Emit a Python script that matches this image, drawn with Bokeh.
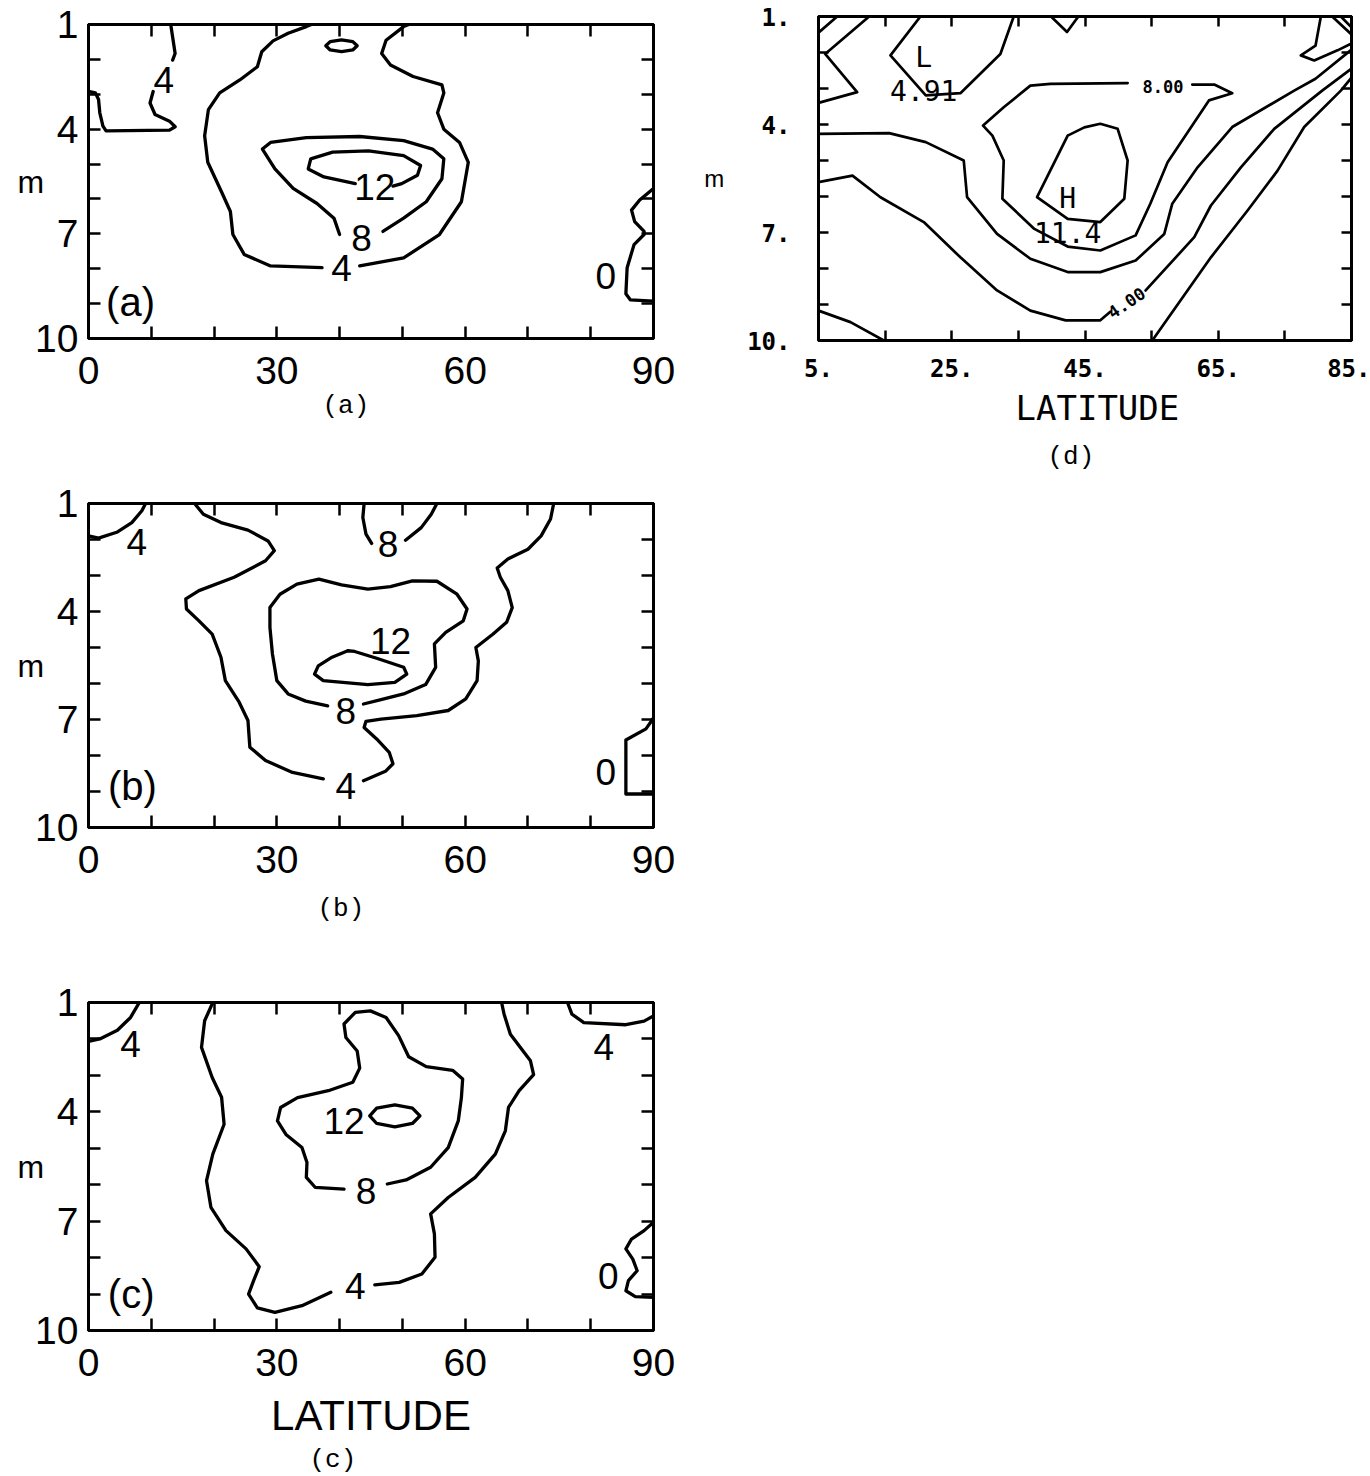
from bokeh.plotting import figure
from bokeh.models import Range1d, FixedTicker, LinearAxis, Title
from bokeh.layouts import row, column
from bokeh.core.properties import value
from bokeh.embed import file_html
from bokeh.resources import INLINE

# ---------------- axis ticks ----------------
ABC_XTICKS = [0, 10, 20, 30, 40, 50, 60, 70, 80, 90]
ABC_XLABELS = ["0", "", "", "30", "", "", "60", "", "", "90"]
ABC_YTICKS = [1, 2, 3, 4, 5, 6, 7, 8, 9, 10]
ABC_YLABELS = ["1", "", "", "4", "", "", "7", "", "", "10"]
D_XTICKS = [5, 15, 25, 35, 45, 55, 65, 75, 85]
D_XLABELS = ["5.", "", "25.", "", "45.", "", "65.", "", "85."]
D_YTICKS = [1, 2, 3, 4, 5, 6, 7, 8, 9, 10]
D_YLABELS = ["1.", "", "", "4.", "", "", "7.", "", "", "10."]

# ---------------- panel (a): contour lines (latitude, m) ----------------
A_4L_TOP_LAT = [13.1, 13.4, 13.8, 13.4]
A_4L_TOP_M = [1.0, 1.36, 1.83, 2.02]
A_4L_BOT_LAT = [10.3, 9.8, 10.6, 12.9, 13.8, 12.9, 2.8, 2.3, 1.8, 1.6, 1.1, 0.0]
A_4L_BOT_M = [2.92, 3.25, 3.58, 3.77, 3.93, 4.03, 4.05, 3.91, 3.53, 3.15, 2.96, 2.92]
A_4B_L_LAT = [35.5, 34.7, 31.8, 29.4, 27.6, 26.9, 24.1, 20.9, 19.1, 18.5, 19.0, 21.2, 22.6, 23.0, 24.8, 29.0, 37.2]
A_4B_L_M = [1.0, 1.06, 1.25, 1.47, 1.78, 2.21, 2.59, 2.96, 3.44, 4.19, 4.95, 5.80, 6.36, 7.02, 7.59, 7.92, 7.97]
A_4B_R_LAT = [43.2, 50.2, 55.9, 59.4, 60.5, 59.1, 56.6, 55.6, 56.6, 56.3, 51.7, 48.1, 46.7, 47.4, 50.2, 51.0]
A_4B_R_M = [7.92, 7.69, 7.02, 6.08, 4.95, 4.38, 4.0, 3.53, 2.96, 2.73, 2.49, 2.16, 1.83, 1.45, 1.06, 1.0]
A_LOOP_LAT = [37.8, 38.5, 40.3, 42.1, 42.8, 42.1, 40.3, 38.5, 37.8]
A_LOOP_M = [1.61, 1.49, 1.44, 1.49, 1.61, 1.73, 1.78, 1.73, 1.61]
A_8_LAT = [40.0, 39.1, 36.4, 32.6, 29.7, 27.7, 29.0, 34.7, 43.2, 50.2, 54.8, 56.6, 56.3, 53.8, 50.2, 46.9]
A_8_M = [7.02, 6.55, 6.13, 5.70, 5.14, 4.57, 4.38, 4.24, 4.21, 4.33, 4.57, 4.85, 5.42, 6.08, 6.55, 6.93]
A_12_LAT = [42.5, 37.5, 35.0, 35.4, 38.9, 44.6, 50.2, 52.9, 52.4, 49.9, 48.5]
A_12_M = [5.56, 5.37, 5.14, 4.85, 4.66, 4.62, 4.76, 5.04, 5.32, 5.56, 5.63]
A_0_LAT = [90.0, 87.8, 86.5, 87.0, 88.5, 88.5, 86.9, 85.8, 85.6, 86.3, 90.0]
A_0_M = [5.70, 6.03, 6.32, 6.65, 6.93, 7.02, 7.31, 7.97, 8.72, 8.89, 8.93]
A_LBL_LAT = [12.0, 40.3, 43.5, 45.6, 82.4]
A_LBL_M = [2.6, 7.97, 7.12, 5.66, 8.2]
A_LBL_TXT = ["4", "4", "8", "12", "0"]
A_TAG_LAT = [6.7]
A_TAG_M = [8.94]
A_TAG_TXT = ["(a)"]

# ---------------- panel (b) ----------------
B_4L_LAT = [0.0, 1.6, 4.5, 6.9, 8.5, 9.1]
B_4L_M = [1.90, 1.96, 1.80, 1.53, 1.2, 1.0]
B_4B_L_LAT = [16.9, 18.3, 21.1, 25.4, 28.6, 29.6, 28.2, 23.2, 17.6, 15.5, 15.6, 17.6, 19.7, 21.1, 21.8, 24.0, 25.4, 25.7, 28.2, 32.5, 37.4]
B_4B_L_M = [1.0, 1.30, 1.53, 1.74, 2.04, 2.31, 2.59, 3.05, 3.42, 3.65, 3.93, 4.26, 4.63, 5.27, 5.92, 6.52, 7.03, 7.77, 8.14, 8.47, 8.65]
B_4B_R_LAT = [43.8, 47.3, 48.5, 47.9, 45.9, 43.9, 44.2, 46.6, 52.3, 57.3, 60.1, 61.9, 62.1, 61.7, 64.4, 66.6, 67.5, 66.8, 65.6, 65.1, 66.8, 70.0, 72.1, 73.6, 74.1]
B_4B_R_M = [8.70, 8.44, 8.23, 7.91, 7.54, 7.22, 7.05, 6.99, 6.89, 6.75, 6.43, 5.92, 5.37, 5.0, 4.63, 4.30, 3.89, 3.42, 3.05, 2.79, 2.54, 2.27, 1.90, 1.43, 1.0]
B_8T_L_LAT = [43.9, 43.7, 44.2, 45.1]
B_8T_L_M = [1.0, 1.39, 1.85, 2.11]
B_8T_R_LAT = [50.5, 53.0, 54.6, 55.5]
B_8T_R_M = [2.02, 1.67, 1.30, 1.0]
B_8_LAT = [43.8, 46.6, 50.2, 53.7, 55.3, 55.1, 56.9, 59.7, 60.3, 58.7, 55.5, 51.6, 48.1, 44.5, 40.3, 36.7, 33.2, 30.5, 28.9, 28.9, 29.3, 30.0, 31.8, 34.6, 38.1]
B_8_M = [6.57, 6.45, 6.29, 6.03, 5.55, 4.90, 4.58, 4.26, 3.93, 3.52, 3.16, 3.15, 3.31, 3.38, 3.26, 3.10, 3.24, 3.52, 3.89, 4.44, 5.18, 5.92, 6.29, 6.49, 6.62]
B_12_LAT = [41.3, 38.8, 36.6, 36.0, 37.4, 44.5, 48.8, 50.7, 50.2, 45.9, 42.4, 41.3]
B_12_M = [5.09, 5.27, 5.51, 5.74, 5.92, 6.03, 5.97, 5.74, 5.55, 5.30, 5.11, 5.09]
B_0_LAT = [90.0, 88.8, 85.6, 85.6, 90.0]
B_0_M = [6.96, 7.26, 7.57, 9.07, 9.07]
B_LBL_LAT = [7.7, 41.0, 47.7, 41.0, 48.1, 82.4]
B_LBL_M = [2.08, 8.84, 2.13, 6.75, 4.81, 8.47]
B_LBL_TXT = ["4", "4", "8", "8", "12", "0"]
B_TAG_LAT = [7.0]
B_TAG_M = [8.84]
B_TAG_TXT = ["(b)"]

# ---------------- panel (c) ----------------
C_4L_LAT = [0.0, 1.8, 4.6, 6.7, 8.1]
C_4L_M = [2.07, 2.0, 1.76, 1.41, 1.0]
C_4R_LAT = [76.3, 77.0, 78.9, 85.6, 88.5, 90.0]
C_4R_M = [1.0, 1.32, 1.55, 1.61, 1.51, 1.37]
C_4B_L_LAT = [19.8, 18.5, 18.0, 19.7, 21.2, 21.6, 19.8, 18.8, 19.5, 21.9, 25.1, 27.2, 26.3, 25.5, 26.9, 29.7, 34.0, 38.6]
C_4B_L_M = [1.0, 1.50, 2.23, 3.06, 3.60, 4.34, 5.16, 5.89, 6.62, 7.26, 7.76, 8.25, 8.63, 9.0, 9.38, 9.50, 9.32, 8.95]
C_4B_R_LAT = [45.6, 49.5, 53.1, 55.2, 55.1, 54.5, 57.3, 61.6, 64.8, 66.4, 66.9, 68.6, 70.9, 70.4, 67.2, 66.2, 65.8]
C_4B_R_M = [8.75, 8.68, 8.45, 7.99, 7.35, 6.80, 6.35, 5.80, 5.16, 4.52, 3.88, 3.42, 2.98, 2.60, 1.87, 1.32, 1.0]
C_8_LAT = [47.6, 50.6, 54.5, 57.3, 58.9, 59.4, 59.6, 58.0, 53.8, 51.0, 49.4, 47.4, 44.9, 42.5, 40.7, 41.0, 42.8, 43.2, 42.1, 38.2, 33.3, 30.6, 30.1, 31.5, 34.0, 34.8, 34.7, 36.1, 40.7]
C_8_M = [5.98, 5.87, 5.52, 4.98, 4.25, 3.61, 3.10, 2.86, 2.76, 2.49, 1.91, 1.41, 1.23, 1.27, 1.59, 1.96, 2.33, 2.80, 3.19, 3.42, 3.61, 3.88, 4.25, 4.63, 4.98, 5.39, 5.80, 6.07, 6.12]
C_12_LAT = [44.8, 45.9, 48.8, 51.6, 52.8, 51.6, 48.8, 45.9, 44.8]
C_12_M = [4.11, 3.90, 3.81, 3.90, 4.11, 4.32, 4.41, 4.32, 4.11]
C_0_LAT = [90.0, 88.5, 86.5, 85.6, 86.7, 87.4, 86.0, 85.6, 87.1, 90.0]
C_0_M = [7.03, 7.26, 7.49, 7.76, 8.04, 8.36, 8.63, 8.91, 9.07, 9.09]
C_LBL_LAT = [6.7, 82.1, 42.5, 44.2, 40.7, 82.8]
C_LBL_M = [2.14, 2.23, 8.77, 6.16, 4.25, 8.5]
C_LBL_TXT = ["4", "4", "4", "8", "12", "0"]
C_TAG_LAT = [6.8]
C_TAG_M = [9.0]
C_TAG_TXT = ["(c)"]

# ---------------- panel (d) ----------------
D_C1_LAT = [5.0, 7.8]
D_C1_M = [1.45, 1.0]
D_ZIG_LAT = [12.6, 6.0, 10.8, 5.0]
D_ZIG_M = [1.0, 2.04, 3.10, 3.40]
D_LOW_LAT = [20.3, 15.8, 21.1, 26.3, 32.3, 34.3]
D_LOW_M = [1.0, 2.08, 3.19, 3.13, 2.04, 1.0]
D_V_LAT = [39.9, 42.3, 44.0]
D_V_M = [1.0, 1.43, 1.0]
D_8_LAT = [61.1, 64.4, 67.1, 63.6, 57.4, 54.8, 52.6, 47.3, 42.4, 37.4, 32.6, 32.8, 31.1, 29.7, 32.8, 36.8, 39.8, 51.4]
D_8_M = [2.89, 2.89, 3.13, 3.33, 5.05, 6.2, 7.08, 7.5, 7.39, 6.9, 6.06, 5.0, 4.31, 4.03, 3.52, 2.92, 2.87, 2.85]
D_H_LAT = [42.4, 44.9, 47.3, 49.9, 51.4, 50.9, 47.3, 42.4, 37.8, 42.4]
D_H_M = [4.31, 4.08, 3.98, 4.12, 5.0, 6.06, 6.71, 6.62, 6.02, 4.31]
D_6_LAT = [5.0, 15.6, 21.1, 26.8, 27.3, 31.8, 36.8, 42.4, 47.3, 52.6, 56.9, 58.1, 61.9, 67.1, 76.4, 79.6, 85.0]
D_6_M = [4.26, 4.24, 4.49, 5.0, 6.02, 7.04, 7.73, 8.10, 8.10, 7.78, 7.04, 6.2, 5.19, 4.07, 3.06, 2.73, 1.92]
D_4_L_LAT = [5.0, 10.1, 14.3, 20.8, 26.3, 31.8, 36.8, 42.1, 47.3, 48.8]
D_4_L_M = [5.6, 5.42, 6.02, 6.71, 7.69, 8.61, 9.17, 9.44, 9.44, 9.2]
D_4_R_LAT = [54.1, 61.4, 63.9, 68.4, 73.4, 80.6, 85.0]
D_4_R_M = [8.61, 7.13, 6.25, 5.19, 4.12, 3.06, 2.45]
D_BR_LAT = [55.1, 63.9, 69.4, 73.9, 77.9, 83.4, 85.0]
D_BR_M = [10.0, 7.69, 6.39, 5.28, 4.07, 3.06, 2.7]
D_BL_LAT = [5.0, 9.8, 14.8]
D_BL_M = [9.17, 9.49, 10.0]
D_WIG_LAT = [80.4, 79.6, 77.4, 79.4, 82.9, 85.0]
D_WIG_M = [1.0, 1.81, 2.08, 2.22, 1.94, 1.75]
D_C2A_LAT = [82.1, 85.0]
D_C2A_M = [1.0, 1.5]
D_C2B_LAT = [83.4, 85.0]
D_C2B_M = [1.0, 1.3]
D_LBL_LAT = [20.8, 20.8, 42.4, 42.4]
D_LBL_M = [2.13, 3.06, 6.06, 7.01]
D_LBL_TXT = ["L", "4.91", "H", "11.4"]
D_SMALL_LAT = [56.7, 51.2]
D_SMALL_M = [2.94, 8.95]
D_SMALL_TXT = ["8.00", "4.00"]
D_SMALL_ANGLE = [0.0, 0.6]

SANS = "Liberation Sans"
MONO = "Liberation Mono"
PLOT = "DejaVu Sans Mono"


def style_axis(ax, lw, tick_len):
    ax.axis_line_color = "black"
    ax.axis_line_width = lw
    ax.major_tick_in = tick_len
    ax.major_tick_out = 0
    ax.major_tick_line_width = 2.5
    ax.major_tick_line_color = "black"
    ax.minor_tick_line_color = None


def make_fig(w, h, borders, xr, yr, xt, xl, yt, yl, font, fsize, fstyle,
             xstand, ystand, tick_len, lw, ylabel_size, ylabel_stand):
    bl, br, bt, bb = borders
    p = figure(width=w, height=h, x_range=Range1d(*xr), y_range=Range1d(*yr),
               output_backend="svg", toolbar_location=None,
               min_border_left=bl, min_border_right=br,
               min_border_top=bt, min_border_bottom=bb)
    p.grid.visible = False
    p.outline_line_color = "black"
    p.outline_line_width = lw
    p.background_fill_color = "white"
    p.border_fill_color = "white"
    bx = p.xaxis[0]
    ly = p.yaxis[0]
    for ax, ticks, labs, stand in ((bx, xt, xl, xstand), (ly, yt, yl, ystand)):
        style_axis(ax, lw, tick_len)
        ax.ticker = FixedTicker(ticks=ticks)
        ax.major_label_overrides = {t: s for t, s in zip(ticks, labs)}
        ax.major_label_standoff = stand
        ax.major_label_text_font = font
        ax.major_label_text_font_size = fsize
        ax.major_label_text_font_style = fstyle
        ax.major_label_text_color = "black"
    ly.axis_label = "m"
    ly.axis_label_text_font = SANS
    ly.axis_label_text_font_size = ylabel_size
    ly.axis_label_text_font_style = "normal"
    ly.axis_label_text_color = "black"
    ly.axis_label_standoff = ylabel_stand
    try:
        ly.axis_label_orientation = "horizontal"
    except Exception:
        pass
    top = LinearAxis(ticker=FixedTicker(ticks=xt),
                     major_label_overrides={t: "" for t in xt},
                     major_label_text_color=None, major_label_text_font_size="1px",
                     major_label_standoff=0)
    right = LinearAxis(ticker=FixedTicker(ticks=yt),
                       major_label_overrides={t: "" for t in yt},
                       major_label_text_color=None, major_label_text_font_size="1px",
                       major_label_standoff=0)
    style_axis(top, lw, tick_len)
    style_axis(right, lw, tick_len)
    p.add_layout(top, "above")
    p.add_layout(right, "right")
    return p, bx


def set_xlabel(ax, text, font, size, stand):
    ax.axis_label = text
    ax.axis_label_text_font = font
    ax.axis_label_text_font_size = size
    ax.axis_label_text_font_style = "normal"
    ax.axis_label_text_color = "black"
    ax.axis_label_standoff = stand


def caption(p, text, offset, stand, font=MONO, size="26px"):
    p.add_layout(Title(text=text, align="left", offset=offset, standoff=stand,
                       text_font=font, text_font_size=size, text_font_style="normal",
                       text_color="black"), "below")


def lines(p, pairs, lw):
    for xs, ys in pairs:
        p.line(xs, ys, line_color="black", line_width=lw, line_join="round", line_cap="round")


def texts(p, xs, ys, ts, font, size, style="normal", angle=None):
    kw = dict(x=xs, y=ys, text=ts, text_font=value(font), text_font_size=value(size),
              text_font_style=style, text_color="black", text_align="center",
              text_baseline="middle")
    if angle is not None:
        kw["angle"] = angle
    p.text(**kw)


LW = 3.3

# ---- (a)
fa, ax_a = make_fig(700, 444, (88, 47, 24, 106), (0, 90), (10, 1), ABC_XTICKS, ABC_XLABELS,
                    ABC_YTICKS, ABC_YLABELS, SANS, "39px", "normal", 18, 10, 12, 3, "32px", -12)
caption(fa, "(a)", 234, 4)
lines(fa, [(A_4L_TOP_LAT, A_4L_TOP_M), (A_4L_BOT_LAT, A_4L_BOT_M), (A_4B_L_LAT, A_4B_L_M),
           (A_4B_R_LAT, A_4B_R_M), (A_LOOP_LAT, A_LOOP_M), (A_8_LAT, A_8_M),
           (A_12_LAT, A_12_M), (A_0_LAT, A_0_M)], LW)
texts(fa, A_LBL_LAT, A_LBL_M, A_LBL_TXT, SANS, "37px")
texts(fa, A_TAG_LAT, A_TAG_M, A_TAG_TXT, SANS, "40px")

# ---- (b)
fb, ax_b = make_fig(700, 496, (88, 46, 59, 111), (0, 90), (10, 1), ABC_XTICKS, ABC_XLABELS,
                    ABC_YTICKS, ABC_YLABELS, SANS, "39px", "normal", 18, 10, 12, 3, "32px", -12)
caption(fb, "(b)", 229, 33)
lines(fb, [(B_4L_LAT, B_4L_M), (B_4B_L_LAT, B_4B_L_M), (B_4B_R_LAT, B_4B_R_M),
           (B_8T_L_LAT, B_8T_L_M), (B_8T_R_LAT, B_8T_R_M), (B_8_LAT, B_8_M),
           (B_12_LAT, B_12_M), (B_0_LAT, B_0_M)], LW)
texts(fb, B_LBL_LAT, B_LBL_M, B_LBL_TXT, SANS, "37px")
texts(fb, B_TAG_LAT, B_TAG_M, B_TAG_TXT, SANS, "40px")

# ---- (c)
fc, ax_c = make_fig(700, 536, (86, 47, 62, 146), (0, 90), (10, 1), ABC_XTICKS, ABC_XLABELS,
                    ABC_YTICKS, ABC_YLABELS, SANS, "39px", "normal", 18, 10, 12, 3, "32px", -12)
set_xlabel(ax_c, "LATITUDE", SANS, "42px", 13)
caption(fc, "(c)", 221, 3)
lines(fc, [(C_4L_LAT, C_4L_M), (C_4R_LAT, C_4R_M), (C_4B_L_LAT, C_4B_L_M),
           (C_4B_R_LAT, C_4B_R_M), (C_8_LAT, C_8_M), (C_12_LAT, C_12_M), (C_0_LAT, C_0_M)], LW)
texts(fc, C_LBL_LAT, C_LBL_M, C_LBL_TXT, SANS, "37px")
texts(fc, C_TAG_LAT, C_TAG_M, C_TAG_TXT, SANS, "40px")

# ---- (d)
fd, ax_d = make_fig(670, 480, (118, 19, 16, 140), (5, 85), (10, 1), D_XTICKS, D_XLABELS,
                    D_YTICKS, D_YLABELS, PLOT, "24px", "bold", 18, 28, 10, 3, "24px", 20)
caption(fd, "LATITUDE", 197, 13, PLOT, "34px")
caption(fd, "(d)", 229, 10)
lines(fd, [(D_C1_LAT, D_C1_M), (D_ZIG_LAT, D_ZIG_M), (D_LOW_LAT, D_LOW_M), (D_V_LAT, D_V_M),
           (D_8_LAT, D_8_M), (D_H_LAT, D_H_M), (D_6_LAT, D_6_M), (D_4_L_LAT, D_4_L_M),
           (D_4_R_LAT, D_4_R_M), (D_BR_LAT, D_BR_M), (D_BL_LAT, D_BL_M),
           (D_WIG_LAT, D_WIG_M), (D_C2A_LAT, D_C2A_M), (D_C2B_LAT, D_C2B_M)], 2.7)
texts(fd, D_LBL_LAT, D_LBL_M, D_LBL_TXT, PLOT, "28px")
texts(fd, D_SMALL_LAT, D_SMALL_M, D_SMALL_TXT, PLOT, "17px", "bold", D_SMALL_ANGLE)

layout = row(column(fa, fb, fc), fd)

open("out.html", "w").write(file_html(layout, INLINE))
